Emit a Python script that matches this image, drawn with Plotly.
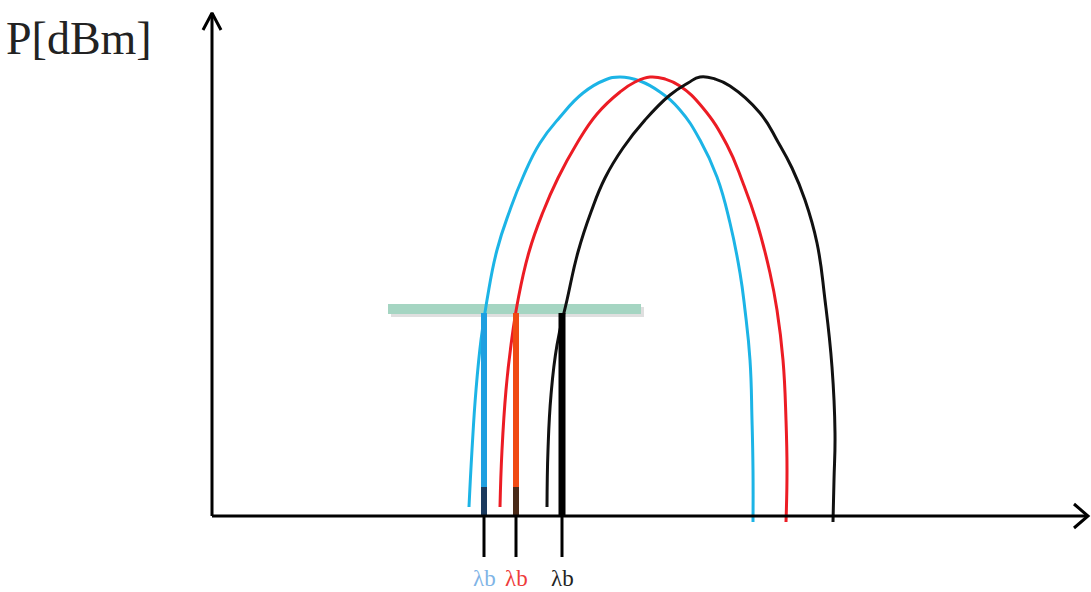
import plotly.graph_objects as go

# ---- data (diagram units: x = wavelength, y = power; origin at axis crossing) ----
blue_x = [257, 260, 264, 269, 275, 285, 298, 311, 328, 348, 371, 393, 408, 428, 448, 468, 488, 505, 518, 528, 533, 538, 540, 541, 541]
blue_y = [9, 66, 126, 176, 216, 266, 306, 339, 373, 399, 423, 436, 439, 435, 424, 406, 376, 339, 293, 243, 206, 156, 96, 46, -6]
red_x = [288, 290, 294, 299, 306, 317, 331, 346, 364, 385, 408, 423, 438, 453, 468, 491, 515, 531, 545, 558, 565, 571, 574, 575, 574]
red_y = [9, 66, 126, 171, 216, 264, 304, 338, 371, 402, 424, 434, 439, 437, 430, 408, 371, 333, 293, 243, 206, 156, 96, 46, -6]
black_x = [335, 336, 339, 345, 355, 366, 379, 393, 411, 433, 458, 476, 488, 503, 518, 548, 566, 580, 593, 605, 613, 620, 623, 622, 621]
black_y = [9, 66, 121, 171, 216, 264, 304, 338, 368, 396, 421, 433, 439, 437, 430, 403, 374, 348, 316, 273, 216, 149, 83, 36, -6]

lambda_x = [272, 304, 350]          # λb positions
lambda_colors = ["#1e9fe0", "#f04a12", "#000000"]
label_colors = ["#7fb4e6", "#ee3b3b", "#222222"]
curve_colors = ["#1cb4e6", "#ec1c24", "#111111"]
level_y = 207                       # threshold level
level_x = [176, 429]                # threshold bar extent

fig = go.Figure()

# threshold bar (with faint shadow)
fig.add_trace(go.Scatter(x=[level_x[0] + 3, level_x[1] + 3], y=[level_y - 3, level_y - 3], mode="lines",
                         line=dict(color="rgba(150,150,150,0.3)", width=10), hoverinfo="skip"))
fig.add_trace(go.Scatter(x=level_x, y=[level_y, level_y], mode="lines",
                         line=dict(color="#a5d5c2", width=10), hoverinfo="skip"))

# arches
for xs, ys, c in [(blue_x, blue_y, curve_colors[0]), (red_x, red_y, curve_colors[1]),
                  (black_x, black_y, curve_colors[2])]:
    fig.add_trace(go.Scatter(x=xs, y=ys, mode="lines", line=dict(color=c, width=3, shape="spline", smoothing=1.3),
                             hoverinfo="skip"))

# λb markers: thick bar up to level, tick below axis
for lx, c, w in zip(lambda_x, lambda_colors, [6, 6, 7]):
    fig.add_trace(go.Scatter(x=[lx, lx], y=[0, level_y - 4], mode="lines", line=dict(color=c, width=w),
                             hoverinfo="skip"))
    fig.add_trace(go.Scatter(x=[lx, lx], y=[-41, 1], mode="lines", line=dict(color="#000000", width=3),
                             hoverinfo="skip"))
# darker bottoms of coloured bars
for lx, c in zip(lambda_x[:2], ["#1a3a5e", "#4a2a18"]):
    fig.add_trace(go.Scatter(x=[lx, lx], y=[0, 29], mode="lines", line=dict(color=c, width=6), hoverinfo="skip"))

# axes with arrowheads
XMAX, YMAX = 876, 503
fig.add_trace(go.Scatter(x=[0, XMAX], y=[0, 0], mode="lines", line=dict(color="black", width=3), hoverinfo="skip"))
fig.add_trace(go.Scatter(x=[0, 0], y=[0, YMAX], mode="lines", line=dict(color="black", width=3), hoverinfo="skip"))
fig.add_trace(go.Scatter(x=[XMAX - 14, XMAX, XMAX - 14], y=[12, 0, -12], mode="lines",
                         line=dict(color="black", width=3), hoverinfo="skip"))
fig.add_trace(go.Scatter(x=[-9, 0, 9], y=[YMAX - 17, YMAX, YMAX - 17], mode="lines",
                         line=dict(color="black", width=3), hoverinfo="skip"))

# labels
for lx, c in zip(lambda_x, label_colors):
    fig.add_annotation(x=lx, y=-62, text="λb", showarrow=False,
                       font=dict(family="Liberation Serif", size=23, color=c))
fig.add_annotation(x=-133, y=478, text="P[dBm]", showarrow=False,
                   font=dict(family="Liberation Serif", size=46, color="#222222"))

fig.update_layout(
    width=1091, height=592, margin=dict(l=0, r=0, t=0, b=0),
    paper_bgcolor="white", plot_bgcolor="white", showlegend=False,
    xaxis=dict(range=[-212, 879], visible=False, fixedrange=True),
    yaxis=dict(range=[-76, 516], visible=False, fixedrange=True),
)
fig.write_html("out.html", post_script="document.body.style.margin='0px';document.body.style.overflow='hidden';",
               config={"displayModeBar": False})
